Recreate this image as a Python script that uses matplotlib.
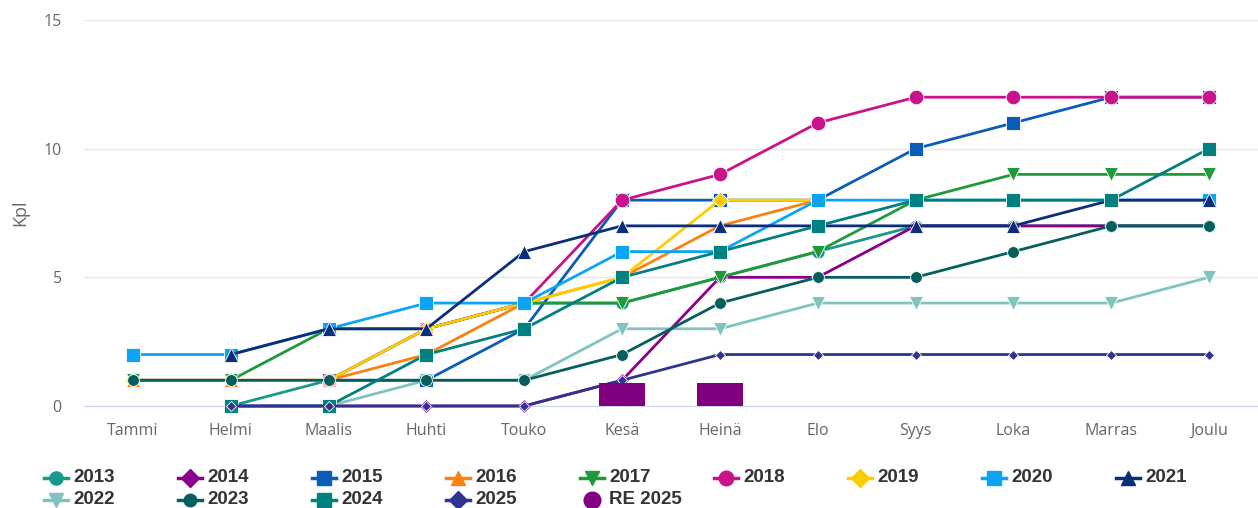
import numpy as np
import matplotlib.pyplot as plt

months = ['Tammi', 'Helmi', 'Maalis', 'Huhti', 'Touko', 'Kesä',
          'Heinä', 'Elo', 'Syys', 'Loka', 'Marras', 'Joulu']
N = np.nan

# kumulatiiviset kappalemäärät vuosittain
v2013 = [N, 0, 1, 3, 4, 4, 5, 6, 7, 7, 7, 7]
v2014 = [N, 0, 0, 0, 0, 1, 5, 5, 7, 7, 7, 7]
v2015 = [N, N, 1, 1, 3, 8, 8, 8, 10, 11, 12, 12]
v2016 = [1, 1, 1, 2, 4, 5, 7, 8, N, N, N, N]
v2017 = [1, 1, 3, 3, 4, 4, 5, 6, 8, 9, 9, 9]
v2018 = [N, N, 1, 3, 4, 8, 9, 11, 12, 12, 12, 12]
v2019 = [1, 1, 1, 3, 4, 5, 8, 8, N, N, N, N]
v2020 = [2, 2, 3, 4, 4, 6, 6, 8, 8, 8, 8, 8]
v2021 = [N, 2, 3, 3, 6, 7, 7, 7, 7, 7, 8, 8]
v2022 = [N, N, 0, 1, 1, 3, 3, 4, 4, 4, 4, 5]
v2023 = [1, 1, 1, 1, 1, 2, 4, 5, 5, 6, 7, 7]
v2024 = [N, 0, 0, 2, 3, 5, 6, 7, 8, 8, 8, 10]
v2025 = [N, 0, 0, 0, 0, 1, 2, 2, 2, 2, 2, 2]
re2025 = [N, N, N, N, N, 0.9, 0.9, N, N, N, N, N]

# (nimi, data, väri, markkeri, koko)
series = [
    ('2013', v2013, '#17998c', 'o', 9.5),
    ('2014', v2014, '#8b008b', 'D', 7.5),
    ('2015', v2015, '#0b5cb8', 's', 9.5),
    ('2016', v2016, '#fb8113', '^', 10),
    ('2017', v2017, '#1f9a3a', 'v', 10),
    ('2018', v2018, '#c8138b', 'o', 10.5),
    ('2019', v2019, '#ffcc00', 'D', 8.5),
    ('2020', v2020, '#0ca4f5', 's', 9.5),
    ('2021', v2021, '#0a2e7a', '^', 10.5),
    ('2022', v2022, '#80c4c0', 'v', 10.5),
    ('2023', v2023, '#075f5d', 'o', 8.5),
    ('2024', v2024, '#008080', 's', 9.5),
    ('2025', v2025, '#2f3490', 'D', 5.5),
]
re_color = '#800080'

fig = plt.figure(figsize=(12.58, 5.08), dpi=100)
ax = fig.add_axes([84 / 1258, 102 / 508, 1174 / 1258, 386 / 508])

x = np.arange(len(months))
for i, (name, vals, col, mk, ms) in enumerate(series):
    ax.plot(x, vals, color=col, lw=2, marker=mk, ms=ms, mec='white', mew=0.6,
            clip_on=False, zorder=3 + i * 0.1)
ax.bar(x, np.nan_to_num(re2025), width=0.47, color=re_color, zorder=5)

ax.set_xlim(-0.5, 11.5)
ax.set_ylim(0, 15)
ax.set_yticks([0, 5, 10, 15])
ax.set_xticks(x)
ax.set_xticklabels(months)
ax.grid(axis='y', color='#e6e6e6', lw=1)
ax.set_axisbelow(True)
for s in ['top', 'right', 'left']:
    ax.spines[s].set_visible(False)
ax.spines['bottom'].set_color('#ccd6eb')
ax.tick_params(axis='both', length=0, colors='#666666', labelsize=11.5)
ax.tick_params(axis='x', pad=12)
ax.tick_params(axis='y', pad=16)
for lab in ax.get_xticklabels() + ax.get_yticklabels():
    lab.set_family('Open Sans')
ax.set_ylabel('Kpl', color='#666666', fontsize=13, family='Open Sans', labelpad=10)

# selite kahdessa rivissä
order = ['2013', '2014', '2015', '2016', '2017', '2018', '2019', '2020', '2021',
         '2022', '2023', '2024', '2025', 'RE 2025']
lookup = {s[0]: s for s in series}
lax = fig.add_axes([0, 0, 1, 1])
lax.set_xlim(0, 1258)
lax.set_ylim(508, 0)
lax.axis('off')
for k, name in enumerate(order):
    row, c = divmod(k, 9)
    x0 = 56 + 134 * c
    y0 = 478 + 22 * row
    if name == 'RE 2025':
        lax.plot([x0], [y0], marker='o', ms=12, color=re_color, ls='none')
    else:
        _, _, col, mk, ms = lookup[name]
        lax.plot([x0 - 12, x0 + 12], [y0, y0], color=col, lw=2.5)
        lax.plot([x0], [y0], marker=mk, ms=max(ms, 9), color=col, ls='none')
    lax.text(x0 + 17, y0, name, va='center', ha='left', fontsize=13.5,
             fontweight='bold', color='#333333', family='Liberation Sans')

fig.savefig('out.png', dpi=100)
